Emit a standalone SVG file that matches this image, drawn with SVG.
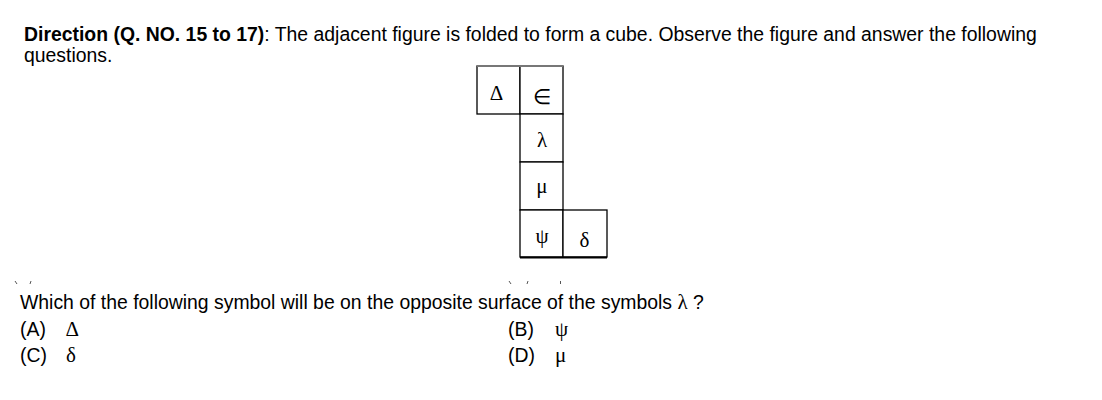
<svg xmlns="http://www.w3.org/2000/svg" width="1102" height="400" viewBox="0 0 1102 400">
<style>
.t{font-family:"Liberation Sans",Arial,sans-serif;font-size:19.4px;fill:#000}
.b{font-weight:bold}
.s{font-family:"Liberation Serif","Times New Roman",serif;font-size:21px;fill:#000;text-anchor:middle}
.so{font-family:"Liberation Serif","Times New Roman",serif;font-size:21px;fill:#000}
.c{fill:#fff;stroke:#000;stroke-width:1.3}
.tick{stroke:#555;stroke-width:1}
</style>
<rect width="1102" height="400" fill="#fff"/>
<text class="t" x="24" y="41"><tspan class="b">Direction (Q. NO. 15 to 17)</tspan>: The adjacent figure is folded to form a cube. Observe the figure and answer the following</text>
<text class="t" x="24" y="62">questions.</text>
<g id="net">
<g id="face-delta"><rect class="c" x="477" y="66" width="43" height="48"/><text class="s" x="496.5" y="99.5">Δ</text></g>
<g id="face-in"><rect class="c" x="520" y="66" width="43" height="48"/><text class="s" x="542" y="104">∈</text></g>
<g id="face-lambda"><rect class="c" x="520" y="114" width="43" height="48"/><text class="s" x="542" y="147">λ</text></g>
<g id="face-mu"><rect class="c" x="520" y="162" width="43" height="48"/><text class="s" x="542" y="193">μ</text></g>
<g id="face-psi"><rect class="c" x="520" y="210" width="43" height="47"/><text class="s" x="542" y="243">ψ</text></g>
<g id="face-delta-small"><rect class="c" x="563" y="210" width="44" height="47"/><text class="s" x="584.5" y="246.5">δ</text></g>
<line x1="477" y1="66" x2="563" y2="66" stroke="#777" stroke-width="2"/>
<line x1="520" y1="257.5" x2="607" y2="257.5" stroke="#000" stroke-width="2"/>
</g>
<g id="connectors"></g>
<g id="ticks">
<line class="tick" x1="15" y1="281" x2="17" y2="284"/>
<line class="tick" x1="31" y1="281" x2="30" y2="284"/>
<line class="tick" x1="509" y1="281" x2="511" y2="284"/>
<line class="tick" x1="528" y1="281" x2="527" y2="284"/>
<line class="tick" x1="560.5" y1="281" x2="560.5" y2="284"/>
</g>
<text class="t" x="20" y="309">Which of the following symbol will be on the opposite surface of the symbols <tspan class="so">λ</tspan> ?</text>
<text class="t" x="20" y="336">(A)</text><text class="so" x="65.5" y="336">Δ</text>
<text class="t" x="508" y="336">(B)</text><text class="so" x="555" y="336">ψ</text>
<text class="t" x="20" y="362">(C)</text><text class="so" x="66" y="362">δ</text>
<text class="t" x="508" y="362">(D)</text><text class="so" x="555" y="362">μ</text>
</svg>
